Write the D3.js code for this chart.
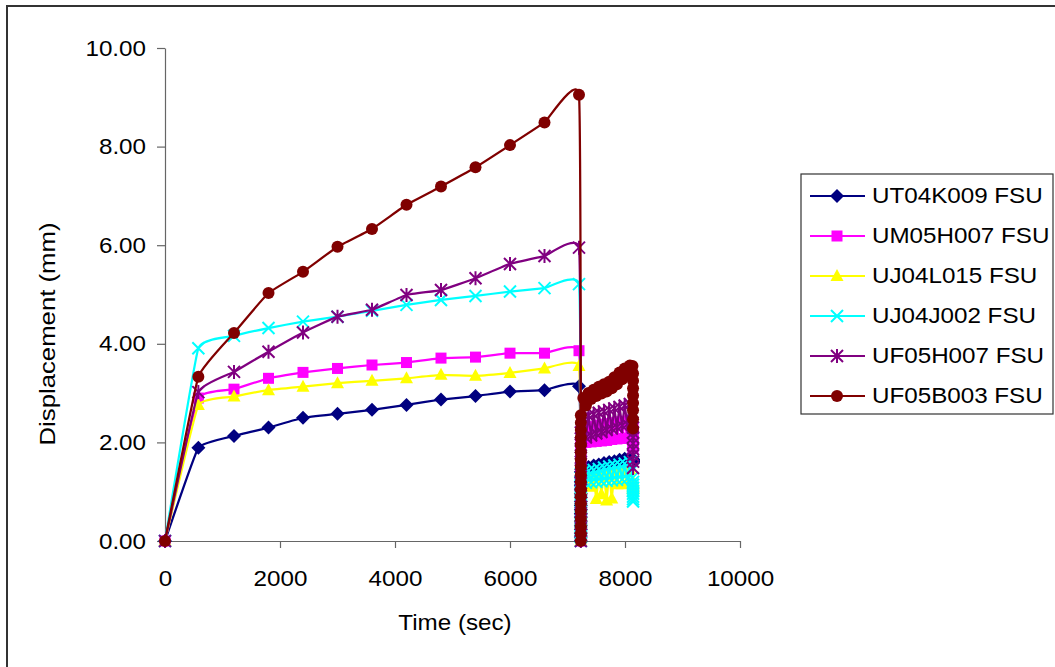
<!DOCTYPE html>
<html>
<head>
<meta charset="utf-8">
<script src="https://cdn.jsdelivr.net/npm/d3@7"></script>
<style>
  body { margin: 0; background: #fff; }
  text { font-family: "Liberation Sans", Arial, sans-serif; fill: #000; }
</style>
</head>
<body>
<div id="chart"></div>
<script>
// time of each logged reading (sec) before the unload
var mainTimes = [0, 580, 1200, 1800, 2400, 3000, 3600, 4200, 4800, 5400, 6000, 6600, 7200];
// unload + reload (vertical), cycling, final unload after 7200 s
var tailTimes = [
  7232, 7232, 7232, 7232, 7232, 7232, 7232, 7232, 7232,
  7232, 7232, 7232, 7232, 7232, 7232, 7232, 7232, 7232,
  7275, 7320, 7365, 7410, 7455, 7500, 7545, 7590, 7635, 7680,
  7725, 7770, 7815, 7860, 7905, 7950, 7995, 8040, 8085, 8130,
  8140, 8140, 8140, 8140, 8140, 8140, 8140, 8140];

var names = ["UT04K009 FSU", "UM05H007 FSU", "UJ04L015 FSU", "UJ04J002 FSU", "UF05H007 FSU", "UF05B003 FSU"];

// displacement (mm)
var ut04k009Main = [0, 1.89, 2.13, 2.30, 2.50, 2.58, 2.66, 2.76, 2.87, 2.94, 3.03, 3.06, 3.14];
var um05h007Main = [0, 2.90, 3.08, 3.30, 3.42, 3.50, 3.57, 3.62, 3.71, 3.73, 3.81, 3.81, 3.86];
var uj04l015Main = [0, 2.76, 2.93, 3.06, 3.13, 3.20, 3.25, 3.30, 3.37, 3.35, 3.41, 3.50, 3.55];
var uj04j002Main = [0, 3.91, 4.16, 4.32, 4.45, 4.55, 4.67, 4.79, 4.89, 4.97, 5.06, 5.13, 5.21];
var uf05h007Main = [0, 3.02, 3.43, 3.84, 4.23, 4.55, 4.69, 4.99, 5.09, 5.33, 5.62, 5.78, 5.95];
var uf05b003Main = [0, 3.33, 4.22, 5.03, 5.46, 5.97, 6.33, 6.82, 7.19, 7.58, 8.03, 8.49, 9.05];

var ut04k009Tail = [
  0, 0.08, 0.16, 0.24, 0.32, 0.40, 0.48, 0.56, 0.64,
  0.72, 0.80, 0.88, 0.96, 1.04, 1.12, 1.20, 1.30, 1.40,
  1.48, 1.44, 1.50, 1.46, 1.53, 1.49, 1.55, 1.51, 1.58, 1.54,
  1.60, 1.56, 1.62, 1.58, 1.65, 1.61, 1.67, 1.63, 1.70, 1.66,
  1.66, 1.65, 1.64, 1.63, 1.62, 1.61, 1.60, 1.58];
var um05h007Tail = [
  0, 0.11, 0.22, 0.33, 0.44, 0.55, 0.66, 0.77, 0.88,
  0.99, 1.10, 1.21, 1.32, 1.43, 1.54, 1.65, 1.80, 1.95,
  2.30, 2.00, 2.32, 2.01, 2.33, 2.02, 2.35, 2.03, 2.37, 2.04,
  2.38, 2.06, 2.40, 2.07, 2.42, 2.08, 2.43, 2.09, 2.45, 2.10,
  2.30, 2.22, 2.15, 2.08, 2.02, 1.96, 1.92, 1.88];
var uj04l015Tail = [
  0, 0.07, 0.14, 0.21, 0.28, 0.35, 0.42, 0.49, 0.56,
  0.63, 0.70, 0.77, 0.84, 0.91, 0.98, 1.05, 1.15, 1.25,
  1.30, 1.15, 1.32, 1.10, 1.33, 0.85, 1.35, 0.95, 1.37, 0.82,
  1.38, 0.86, 1.40, 1.15, 1.42, 1.15, 1.43, 1.20, 1.45, 1.20,
  1.20, 1.18, 1.15, 1.12, 1.10, 1.08, 1.06, 1.05];
var uj04j002Tail = [
  0, 0.08, 0.16, 0.24, 0.32, 0.40, 0.48, 0.56, 0.64,
  0.72, 0.80, 0.88, 0.96, 1.04, 1.12, 1.20, 1.28, 1.36,
  1.40, 1.18, 1.42, 1.19, 1.44, 1.20, 1.46, 1.21, 1.49, 1.22,
  1.51, 1.23, 1.53, 1.24, 1.55, 1.25, 1.57, 1.26, 1.60, 1.28,
  1.20, 1.14, 1.08, 1.02, 0.96, 0.90, 0.85, 0.80];
var uf05h007Tail = [
  0, 0.13, 0.26, 0.39, 0.52, 0.65, 0.78, 0.91, 1.04,
  1.17, 1.30, 1.43, 1.56, 1.69, 1.82, 1.95, 2.08, 2.20,
  2.50, 2.10, 2.54, 2.14, 2.57, 2.18, 2.60, 2.21, 2.63, 2.25,
  2.66, 2.28, 2.69, 2.31, 2.72, 2.34, 2.75, 2.37, 2.78, 2.40,
  2.30, 2.20, 2.10, 1.98, 1.86, 1.74, 1.61, 1.48];
var uf05b003Tail = [
  0, 0.15, 0.30, 0.45, 0.60, 0.75, 0.90, 1.05, 1.20,
  1.35, 1.50, 1.65, 1.80, 1.95, 2.10, 2.25, 2.40, 2.55,
  2.90, 2.75, 3.00, 2.88, 3.07, 2.94, 3.13, 2.99, 3.18, 3.03,
  3.23, 3.10, 3.32, 3.18, 3.42, 3.28, 3.50, 3.36, 3.56, 3.55,
  3.40, 3.25, 3.10, 2.95, 2.80, 2.65, 2.47, 2.28];

var xTicks = [0, 2000, 4000, 6000, 8000, 10000];
var yTicks = [0, 2, 4, 6, 8, 10];

var width = 1055, height = 667;
var stretch = 'scale(1.1,1)';

var svg = d3.select('#chart').append('svg')
  .attr('width', width)
  .attr('height', height);

// outer chart frame (runs off the right and bottom edge)
svg.append('rect')
  .attr('x', 7).attr('y', 6)
  .attr('width', 1100).attr('height', 700)
  .attr('fill', 'none')
  .attr('stroke', '#333')
  .attr('stroke-width', 2);

var x = d3.scaleLinear().domain([0, 10000]).range([165, 740]);
var y = d3.scaleLinear().domain([0, 10]).range([541, 48]);

// axes
var yAxis = svg.append('g')
  .attr('transform', 'translate(165,0)')
  .call(d3.axisLeft(y).tickValues(yTicks).tickSize(8).tickSizeOuter(0).tickFormat(d3.format('.2f')));
yAxis.selectAll('text')
  .attr('x', null)
  .attr('font-size', 22)
  .attr('transform', 'translate(-19,0) ' + stretch);

var xAxis = svg.append('g')
  .attr('transform', 'translate(0,541)')
  .call(d3.axisBottom(x).tickValues(xTicks).tickSize(7).tickSizeOuter(0).tickFormat(d3.format('d')));
xAxis.selectAll('text')
  .attr('y', 29.5)
  .attr('font-size', 22)
  .attr('transform', stretch);

svg.selectAll('.domain, .tick line')
  .attr('stroke', '#666')
  .attr('stroke-width', 1.2);

svg.append('text')
  .attr('text-anchor', 'middle')
  .attr('font-size', 22)
  .attr('transform', 'translate(455,630) ' + stretch)
  .text('Time (sec)');

svg.append('text')
  .attr('text-anchor', 'middle')
  .attr('font-size', 22)
  .attr('dy', '0.35em')
  .attr('transform', 'translate(47,334) rotate(-90) scale(1.17,1)')
  .text('Displacement (mm)');

// marker shapes
function drawMarker(g, shape, color) {
  if (shape === 'diamond') {
    g.append('path').attr('d', 'M0,-7L7,0L0,7L-7,0Z').attr('fill', color);
  } else if (shape === 'square') {
    g.append('rect').attr('x', -5.5).attr('y', -5.5).attr('width', 11).attr('height', 11).attr('fill', color);
  } else if (shape === 'triangle') {
    g.append('path').attr('d', 'M0,-7L6.5,5L-6.5,5Z').attr('fill', color);
  } else if (shape === 'cross') {
    g.append('path').attr('d', 'M-6,-6L6,6M-6,6L6,-6')
      .attr('stroke', color).attr('stroke-width', 2).attr('fill', 'none');
  } else if (shape === 'star') {
    g.append('path').attr('d', 'M-6,-6L6,6M-6,6L6,-6M0,-7L0,7')
      .attr('stroke', color).attr('stroke-width', 2).attr('fill', 'none');
  } else {
    g.append('circle').attr('r', 6).attr('fill', color);
  }
}

var series = [
  { name: names[0], color: '#000080', shape: 'diamond', main: ut04k009Main, tail: ut04k009Tail },
  { name: names[1], color: '#ff00ff', shape: 'square', main: um05h007Main, tail: um05h007Tail },
  { name: names[2], color: '#ffff00', shape: 'triangle', main: uj04l015Main, tail: uj04l015Tail },
  { name: names[3], color: '#00ffff', shape: 'cross', main: uj04j002Main, tail: uj04j002Tail },
  { name: names[4], color: '#800080', shape: 'star', main: uf05h007Main, tail: uf05h007Tail },
  { name: names[5], color: '#800000', shape: 'circle', main: uf05b003Main, tail: uf05b003Tail }
];

// gently smoothed line for the creep part (down to the unload point), straight after
var smooth = d3.line()
  .x(function(d) { return x(d.t); })
  .y(function(d) { return y(d.v); })
  .curve(d3.curveCardinal.tension(0.7));
var straight = d3.line()
  .x(function(d) { return x(d.t); })
  .y(function(d) { return y(d.v); });

series.forEach(function(s) {
  var mainPts = mainTimes.map(function(t, i) { return { t: t, v: s.main[i] }; });
  var tailPts = tailTimes.map(function(t, i) { return { t: t, v: s.tail[i] }; });
  var pts = mainPts.concat(tailPts);
  var g = svg.append('g');
  g.append('path')
    .attr('d', smooth(mainPts.concat([tailPts[0]])))
    .attr('fill', 'none')
    .attr('stroke', s.color)
    .attr('stroke-width', 2.25);
  g.append('path')
    .attr('d', straight(tailPts))
    .attr('fill', 'none')
    .attr('stroke', s.color)
    .attr('stroke-width', 2.25);
  g.selectAll('g.mk')
    .data(pts)
    .enter()
    .append('g')
    .attr('class', 'mk')
    .attr('transform', function(d) { return 'translate(' + x(d.t) + ',' + y(d.v) + ')'; })
    .each(function() { drawMarker(d3.select(this), s.shape, s.color); });
});

// legend
svg.append('rect')
  .attr('x', 801).attr('y', 174)
  .attr('width', 252).attr('height', 240)
  .attr('fill', '#fff')
  .attr('stroke', '#333')
  .attr('stroke-width', 1.2);

var legend = svg.selectAll('.legend')
  .data(series)
  .enter()
  .append('g')
  .attr('class', 'legend')
  .attr('transform', function(d, i) { return 'translate(0,' + (196 + i * 40) + ')'; });

legend.append('line')
  .attr('x1', 810).attr('x2', 865)
  .attr('stroke', function(d) { return d.color; })
  .attr('stroke-width', 2);

legend.append('g')
  .attr('transform', 'translate(837,0)')
  .each(function(d) { drawMarker(d3.select(this), d.shape, d.color); });

legend.append('text')
  .attr('font-size', 22)
  .attr('dy', '0.35em')
  .attr('transform', 'translate(872,-1) ' + stretch)
  .text(function(d) { return d.name; });
</script>
</body>
</html>
